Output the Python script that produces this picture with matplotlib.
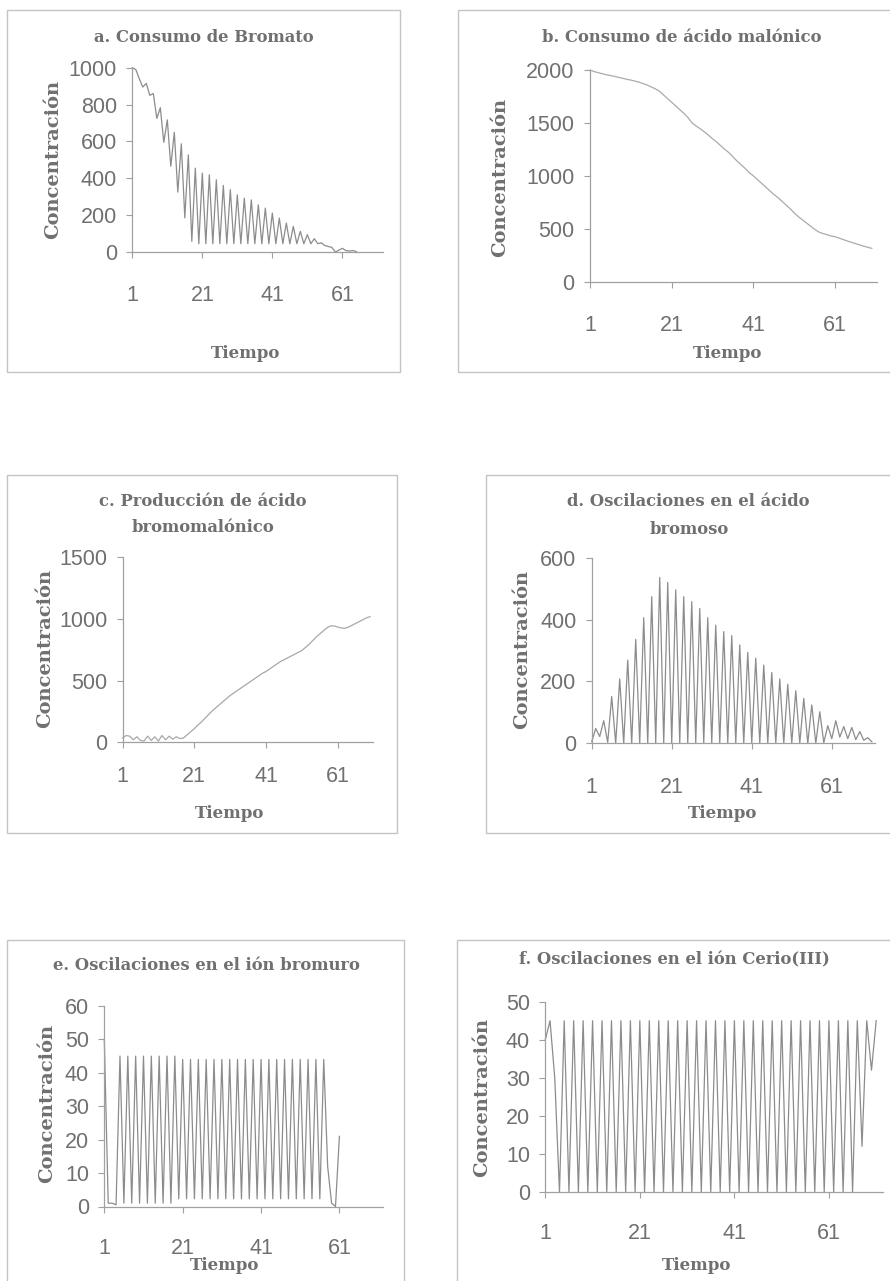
import numpy as np
import matplotlib
matplotlib.use("Agg")
import matplotlib.pyplot as plt
from matplotlib.patches import Rectangle

# ------------------------------------------
# Data (one value per time step)
# ------------------------------------------
tiempo_ticks = [1, 21, 41, 61]

bromato = [1000, 990, 940, 895, 915, 850, 860, 725, 783, 595,
           717, 465, 650, 325, 587, 185, 527, 58, 455, 45,
           428, 45, 419, 45, 392, 45, 361, 45, 338, 45,
           310, 45, 292, 45, 283, 45, 256, 45, 238, 45,
           211, 45, 184, 45, 157, 45, 139, 45, 112, 45,
           94, 45, 72, 45, 50, 35, 30, 25, 0, 10,
           20, 8, 5, 8, 2]

malonico = [2000, 1985, 1975, 1965, 1955, 1948, 1940, 1930, 1922, 1912,
            1905, 1895, 1885, 1872, 1858, 1840, 1822, 1800, 1765, 1730,
            1695, 1660, 1625, 1590, 1550, 1500, 1470, 1445, 1415, 1385,
            1350, 1320, 1285, 1250, 1220, 1180, 1140, 1105, 1070, 1030,
            1000, 965, 930, 895, 860, 825, 795, 760, 725, 690,
            650, 615, 585, 555, 525, 495, 470, 455, 445, 432,
            425, 412, 398, 385, 372, 360, 348, 336, 325, 315]

bromomalonico = [35, 55, 50, 20, 45, 15, 10, 50, 15, 45,
                 10, 55, 20, 50, 25, 45, 30, 35, 60, 85,
                 110, 140, 165, 195, 225, 255, 280, 305, 330, 355,
                 380, 400, 420, 440, 460, 480, 500, 520, 540, 560,
                 575, 595, 615, 635, 655, 670, 685, 700, 715, 730,
                 745, 770, 795, 825, 855, 880, 905, 930, 945, 945,
                 935, 928, 925, 935, 950, 965, 980, 995, 1010, 1020]

bromoso = [5, 48, 22, 73, 3, 151, 0, 208, 0, 269,
           0, 336, 0, 406, 0, 474, 0, 536, 0, 520,
           0, 496, 0, 474, 0, 458, 0, 436, 0, 406,
           0, 382, 0, 361, 0, 348, 0, 318, 0, 294,
           0, 275, 0, 253, 0, 229, 0, 208, 0, 191,
           0, 170, 0, 145, 0, 124, 0, 102, 2, 57,
           15, 73, 20, 54, 15, 51, 12, 38, 10, 18,
           5]

bromuro = [50, 1, 1, 0.5, 45, 1, 45, 1, 45, 1,
           45, 1, 45, 1, 45, 1, 45, 1, 45, 2.3,
           44, 2.3, 44, 2.3, 44, 2.3, 44, 2.3, 44, 2.3,
           44, 2.3, 44, 2.3, 44, 2.3, 44, 2.3, 44, 2.3,
           44, 2.3, 44, 2.3, 44, 2.3, 44, 2.3, 44, 2.3,
           44, 2.3, 44, 2.3, 44, 2.3, 44, 12, 1, 0,
           21]

cerio = [40, 45, 30, 0, 45, 0, 45, 0, 45, 0,
         45, 0, 45, 0, 45, 0, 45, 0, 45, 0,
         45, 0, 45, 0, 45, 0, 45, 0, 45, 0,
         45, 0, 45, 0, 45, 0, 45, 0, 45, 0,
         45, 0, 45, 0, 45, 0, 45, 0, 45, 0,
         45, 0, 45, 0, 45, 0, 45, 0, 45, 0,
         45, 0, 45, 0, 45, 0, 45, 12, 45, 32,
         45]

W, H = 890, 1281
TXT = "#707070"
AXC = "#a0a0a0"
SERIF = ["DejaVu Serif", "Liberation Serif"]
SANS = ["Liberation Sans", "DejaVu Sans"]

fig = plt.figure(figsize=(W / 100, H / 100), dpi=100)


def box(x0, y0, x1, y1):
    # chart area frame, pixel coords from the top-left corner
    fig.add_artist(Rectangle((x0 / W, 1 - y1 / H), (x1 - x0) / W, (y1 - y0) / H,
                             transform=fig.transFigure, fill=False,
                             ec="#c4c4c4", lw=1.0))


def label(x, y, s, size, rot=0):
    fig.text(x / W, 1 - y / H, s, ha="center", va="center", rotation=rot,
             family=SERIF, weight="bold", fontsize=size, color=TXT)


def panel(values, left, top, right, bottom, xmax, ymax, ystep, color, xpad):
    ax = fig.add_axes([left / W, 1 - bottom / H, (right - left) / W, (bottom - top) / H])
    x = np.arange(1, len(values) + 1)
    ax.plot(x, values, color=color, lw=0.9, clip_on=False)
    ax.set_xlim(1, xmax)
    ax.set_ylim(0, ymax)
    ax.set_xticks(tiempo_ticks)
    ax.set_yticks(np.arange(0, ymax + 1, ystep))
    for s in ["top", "right"]:
        ax.spines[s].set_visible(False)
    for s in ["left", "bottom"]:
        ax.spines[s].set_color(AXC)
        ax.spines[s].set_linewidth(0.9)
    ax.tick_params(axis="both", colors=AXC, labelcolor=TXT, length=4, width=0.8,
                   labelsize=15.5)
    ax.tick_params(axis="x", pad=xpad)
    ax.tick_params(axis="y", pad=7)
    for t in ax.get_xticklabels() + ax.get_yticklabels():
        t.set_family(SANS)
    ax.patch.set_alpha(0)
    return ax


TS = 11.8   # title size
YS = 14     # y label size
XS = 12     # x label size

# a. bromato
box(7, 10, 400, 372)
panel(bromato, 132.3, 67.7, 383.3, 252, 72.7, 1000, 200, "#8c8c8c", 20)
label(204, 38, "a. Consumo de Bromato", TS)
label(53, 159, "Concentración", YS, 90)
label(246, 353, "Tiempo", XS)

# b. malonico
box(458, 10, 896, 372)
panel(malonico, 590, 70, 876.7, 281.7, 71.2, 2000, 500, "#aaaaaa", 20)
label(682, 38, "b. Consumo de ácido malónico", TS)
label(500, 177, "Concentración", YS, 90)
label(728, 353, "Tiempo", XS)

# c. bromomalonico
box(7, 475, 397, 833)
panel(bromomalonico, 122.5, 557.5, 373.3, 742.3, 70.9, 1500, 500, "#a8a8a8", 13)
label(203, 502, "c. Producción de ácido", TS)
label(203, 528, "bromomalónico", TS)
label(45, 648, "Concentración", YS, 90)
label(230, 813, "Tiempo", XS)

# d. bromoso
box(486, 475, 896, 833)
panel(bromoso, 591.7, 557.7, 875, 743.3, 71.8, 600, 200, "#8c8c8c", 20)
label(688, 502, "d. Oscilaciones en el ácido", TS)
label(689, 530, "bromoso", TS)
label(522, 649, "Concentración", YS, 90)
label(723, 813, "Tiempo", XS)

# e. bromuro
box(7, 940, 404, 1290)
panel(bromuro, 104.3, 1006, 383.3, 1206.5, 72.2, 60, 10, "#8c8c8c", 19)
label(206, 966, "e. Oscilaciones en el ión bromuro", TS)
label(47, 1103, "Concentración", YS, 90)
label(225, 1266, "Tiempo", XS)

# f. cerio
box(457, 940, 896, 1290)
panel(cerio, 545.3, 1001.7, 883.3, 1192, 72.5, 50, 10, "#8c8c8c", 18)
label(674, 960, "f. Oscilaciones en el ión Cerio(III)", TS)
label(482, 1097, "Concentración", YS, 90)
label(697, 1265, "Tiempo", XS)

fig.savefig("out.png", dpi=100, facecolor="white")
